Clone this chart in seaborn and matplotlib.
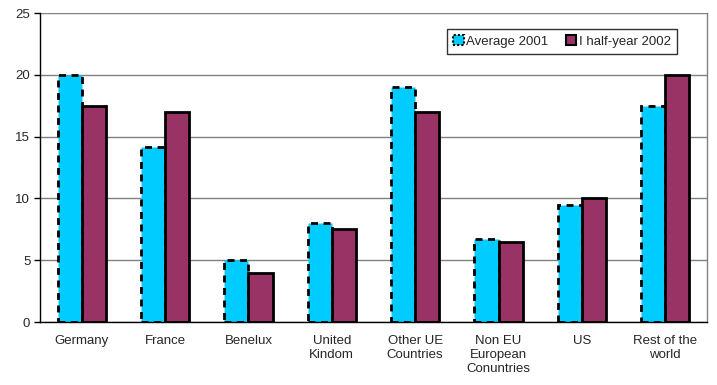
import numpy as np
import pandas as pd
import seaborn as sns
import matplotlib.pyplot as plt
from matplotlib.patches import Patch

# data
categories = ["Germany", "France", "Benelux", "United\nKindom", "Other UE\nCountries",
              "Non EU\nEuropean\nConuntries", "US", "Rest of the\nworld"]
avg_2001 = [20, 14.2, 5, 8, 19, 6.7, 9.5, 17.5]
half_2002 = [17.5, 17, 4, 7.5, 17, 6.5, 10, 20]
series = ["Average 2001", "I half-year 2002"]

df = pd.DataFrame({
    "region": categories * 2,
    "series": [series[0]] * len(categories) + [series[1]] * len(categories),
    "value": avg_2001 + half_2002,
})

sns.set_style("white")
plt.rcParams["font.family"] = ["Liberation Sans", "DejaVu Sans"]

fig = plt.figure(figsize=(7.17, 3.85), dpi=100)
ax = fig.add_axes([0.0558, 0.1636, 0.9302, 0.8026])

colors = ["#00CCFF", "#993366"]
sns.barplot(data=df, x="region", y="value", hue="series", palette=colors,
            width=0.58, ax=ax, legend=False, saturation=1)

# edges: dashed for 2001, solid for 2002
for bar in ax.containers[0]:
    bar.set_edgecolor("black")
    bar.set_linewidth(2)
    bar.set_linestyle((0, (2.5, 2)))
for bar in ax.containers[1]:
    bar.set_edgecolor("black")
    bar.set_linewidth(2)

ax.set_ylim(0, 25)
ax.set_xlim(-0.5, len(categories) - 0.5)
ax.set_yticks([0, 5, 10, 15, 20, 25])
ax.yaxis.grid(True, color="#808080", linewidth=1)
ax.set_axisbelow(True)
ax.set_xlabel("")
ax.set_ylabel("")

# ticks between categories
ax.set_xticks(np.arange(len(categories)))
ax.set_xticklabels(categories, fontsize=9.5, linespacing=1.25)
ax.set_xticks(np.arange(-0.5, len(categories), 1), minor=True)
ax.tick_params(axis="x", which="major", length=0, pad=9)
ax.tick_params(axis="x", which="minor", length=4, width=1, color="black", direction="out")
ax.tick_params(axis="y", length=4, width=1, color="black", direction="out", labelsize=9.5, pad=3)
ax.tick_params(axis="both", bottom=True, left=True)

for side in ["left", "bottom"]:
    ax.spines[side].set_color("black")
    ax.spines[side].set_linewidth(1)
ax.spines["top"].set_visible(False)
ax.spines["right"].set_color("#808080")
ax.spines["right"].set_linewidth(1)

handles = [Patch(facecolor=colors[0], edgecolor="black", linestyle=(0, (1, 1)), linewidth=1.5),
           Patch(facecolor=colors[1], edgecolor="black", linewidth=1.5)]
leg = ax.legend(handles, series, loc="upper right", bbox_to_anchor=(0.955, 0.948),
                borderaxespad=0, fontsize=9.5, frameon=True, fancybox=False, ncol=2,
                handlelength=0.8, handleheight=0.8, handletextpad=0.2,
                columnspacing=1.3, borderpad=0.45)
leg.get_frame().set_edgecolor("black")
leg.get_frame().set_linewidth(1)

fig.savefig("out.png", dpi=100)
